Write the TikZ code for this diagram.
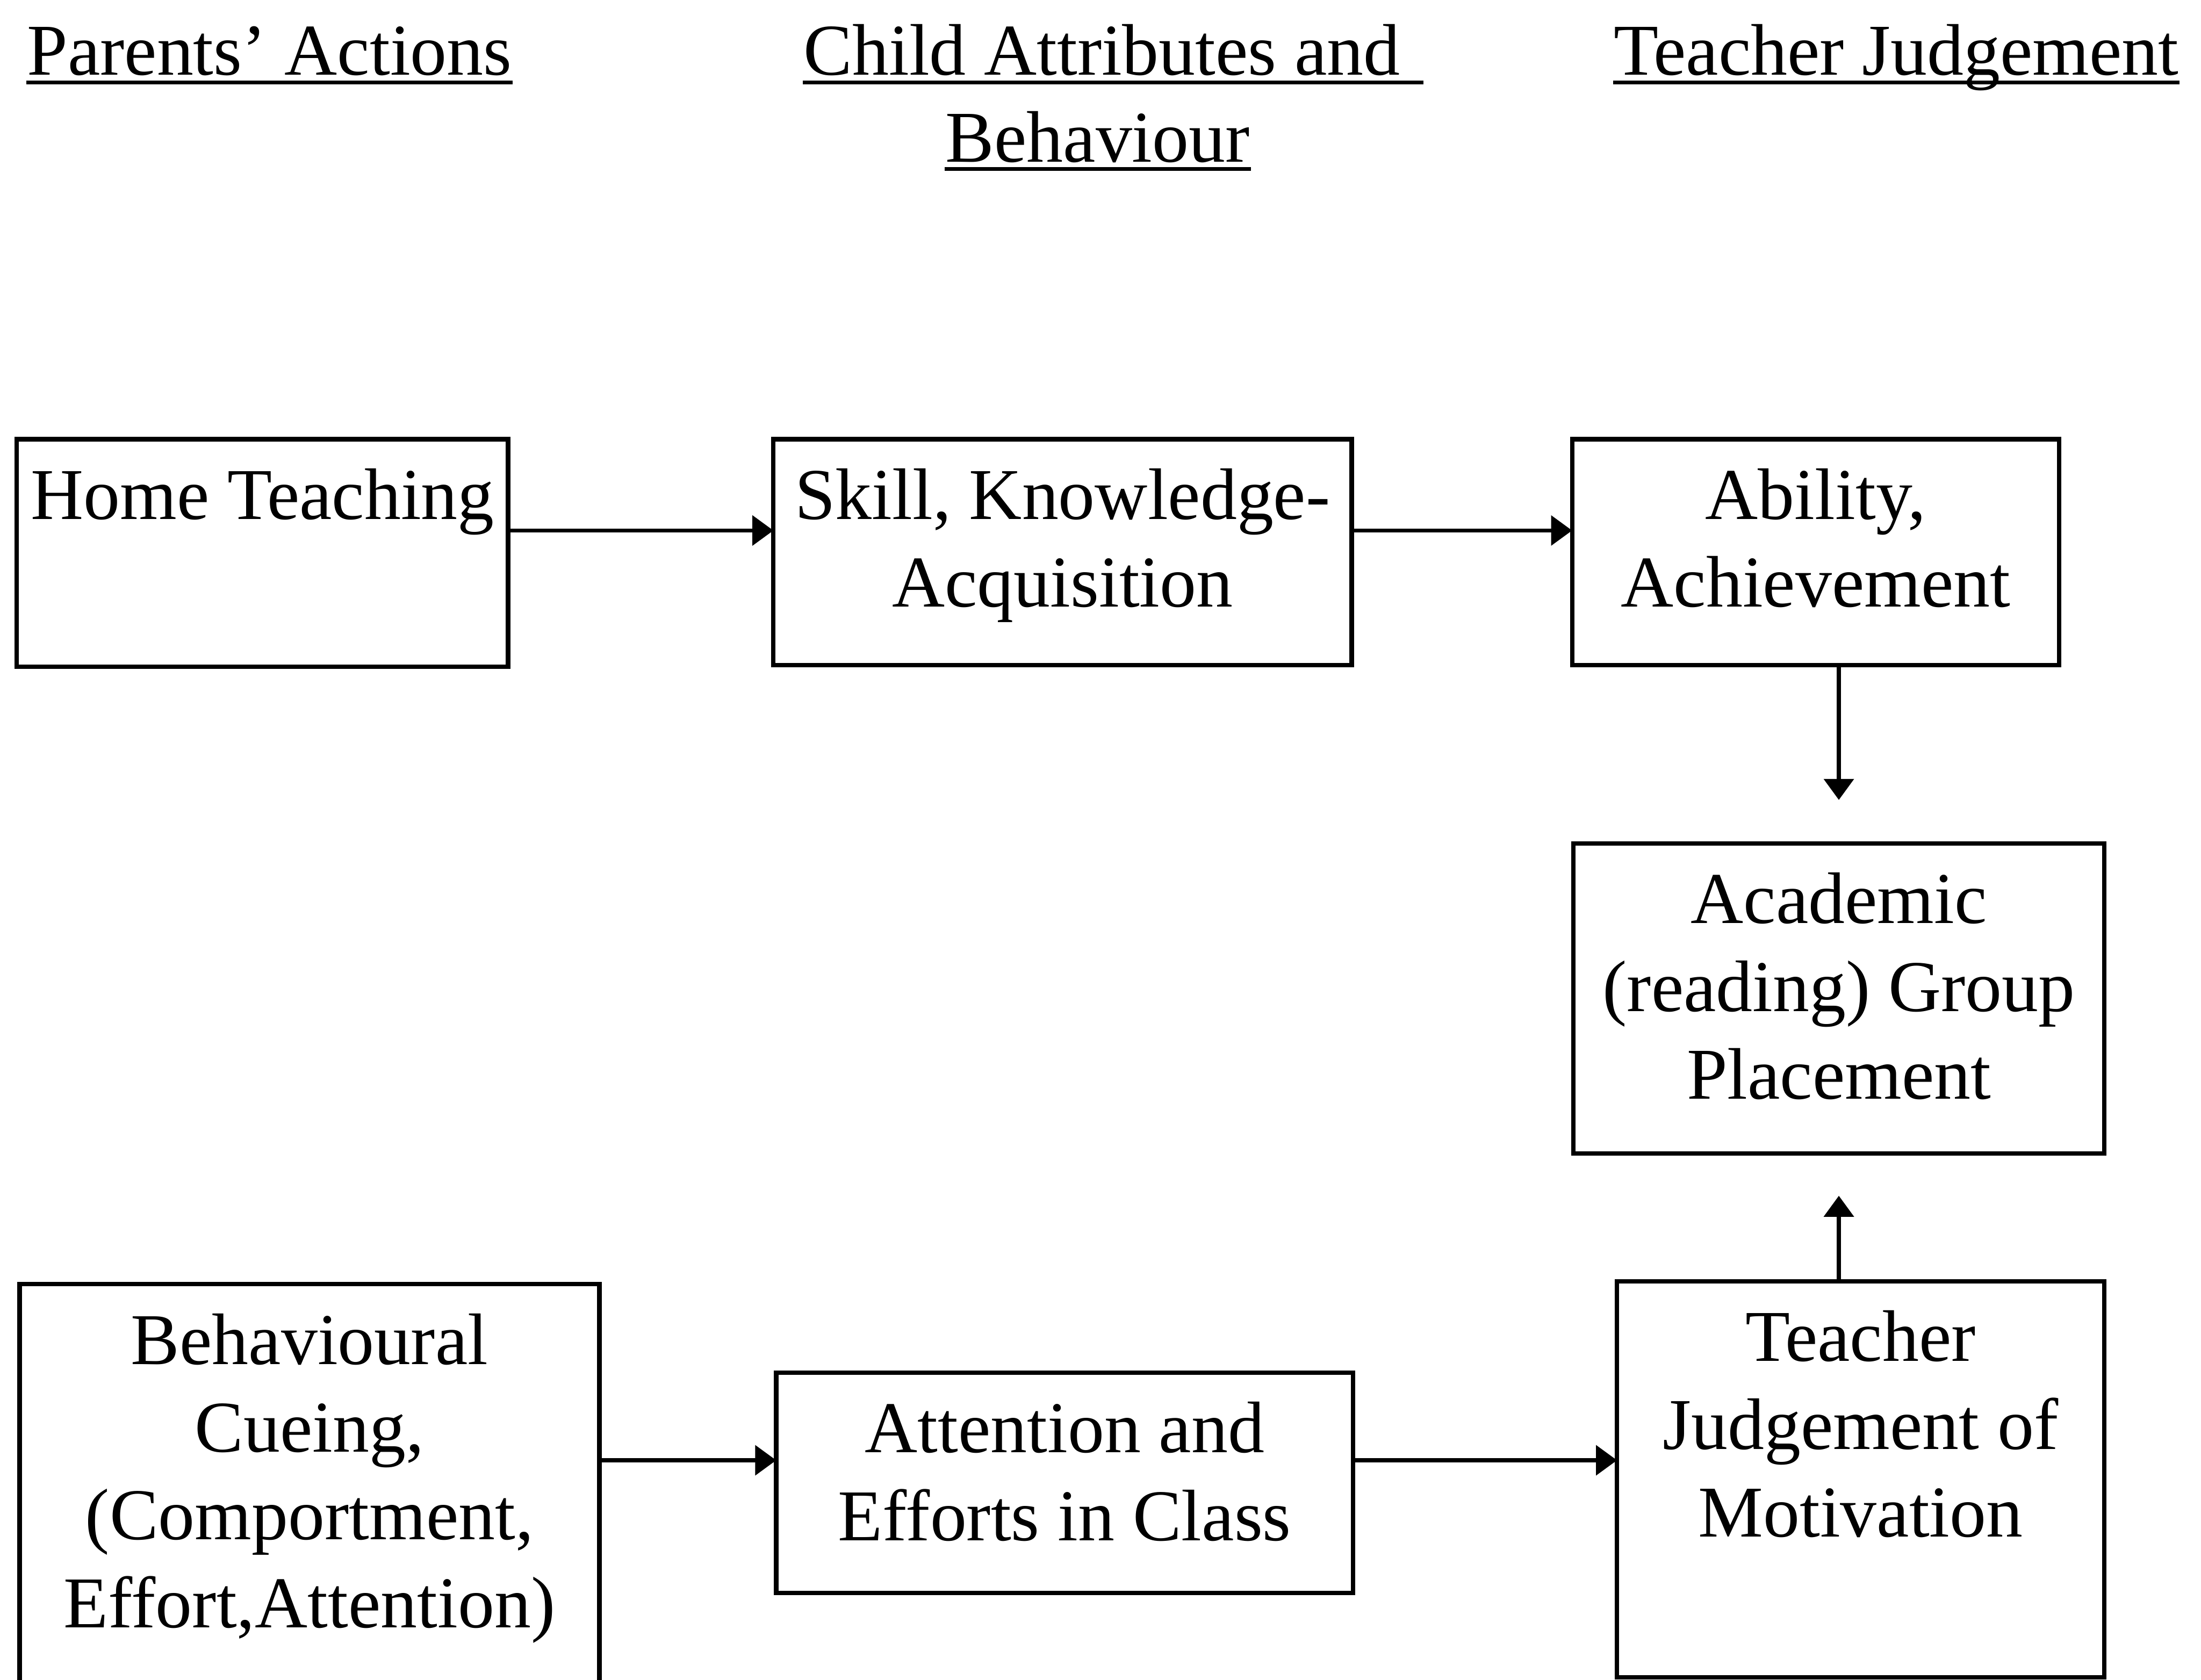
\documentclass[tikz,border=0pt]{standalone}
\usepackage{fontspec}
\setmainfont{Liberation Serif}
\usetikzlibrary{arrows.meta,calc}

% text block inside a box: fixed size, lines centred, first baseline 5.7mm below the top edge
\newcommand{\cellbody}[3]{\parbox[c][#2][t]{#1}{\centering\rule{0pt}{5.7mm}#3}}

\tikzset{
  box/.style={draw, line width=0.9pt, inner sep=0pt, outer sep=0pt, anchor=north west},
  hdr/.style={inner sep=0pt, anchor=base},
  uline/.style={line width=0.8pt},
  arr/.style={-{Triangle[length=1.5mm,width=2.1mm]}, line width=0.85pt},
}

\begin{document}
\begin{tikzpicture}[x=0.1mm, y=-0.1mm, font=\fontsize{14.8pt}{17.8pt}\selectfont]
\useasboundingbox (0,0) rectangle (1568,1197);
\clip (0,0) rectangle (1568,1197);

% column headings
\node[hdr] (hA)  at (192,53.5)  {Parents’ Actions};
\node[hdr] (hB1) at (785,53.5)  {Child Attributes and};
\node[hdr] (hB2) at (782,115.3) {Behaviour};
\node[hdr] (hC)  at (1351,53.5) {Teacher Judgement};

\draw[uline] ([yshift=-0.52mm]hA.base west) -- ([yshift=-0.52mm]hA.base east);
\draw[uline] ([yshift=-0.52mm]hB1.base west) -- ([xshift=1.6mm,yshift=-0.52mm]hB1.base east);
\draw[uline] ([yshift=-0.52mm]hB2.base west) -- ([yshift=-0.52mm]hB2.base east);
\draw[uline] ([yshift=-0.52mm]hC.base west) -- ([yshift=-0.52mm]hC.base east);

% upper row
\node[box] (home)    at (12,313)   {\cellbody{35.0mm}{16.2mm}{Home Teaching}};
\node[box] (skill)   at (551,313)  {\cellbody{41.2mm}{16.1mm}{Skill, Knowledge-\\Acquisition}};
\node[box] (ability) at (1120,313) {\cellbody{34.7mm}{16.1mm}{Ability,\\Achievement}};

% middle
\node[box] (academic) at (1121,601) {\cellbody{37.8mm}{22.1mm}{Academic\\(reading) Group\\Placement}};

% lower row
\node[box] (behav)     at (14,915)   {\cellbody{41.3mm}{32mm}{Behavioural\\Cueing,\\(Comportment,\\Effort,Attention)}};
\node[box] (attention) at (553,978)  {\cellbody{41.1mm}{15.7mm}{Attention and\\Efforts in Class}};
\node[box] (teacher)   at (1152,913) {\cellbody{34.7mm}{28.2mm}{Teacher\\Judgement of\\Motivation}};

% connectors
\draw[arr] ([yshift=1.6mm]home.east) -- ([yshift=1.6mm]home.east -| skill.west);
\draw[arr] ([yshift=1.55mm]skill.east) -- ([yshift=1.55mm]skill.east -| ability.west);
\draw[arr] (ability.south -| academic.north) -- ([yshift=3.1mm]academic.north);
\draw[arr] (teacher.north -| academic.south) -- ([yshift=-3.0mm]academic.south);
\draw[arr] ([yshift=1.6mm]attention.west -| behav.east) -- ([yshift=1.6mm]attention.west);
\draw[arr] ([yshift=1.6mm]attention.east) -- ([yshift=1.6mm]attention.east -| teacher.west);
\end{tikzpicture}
\end{document}
